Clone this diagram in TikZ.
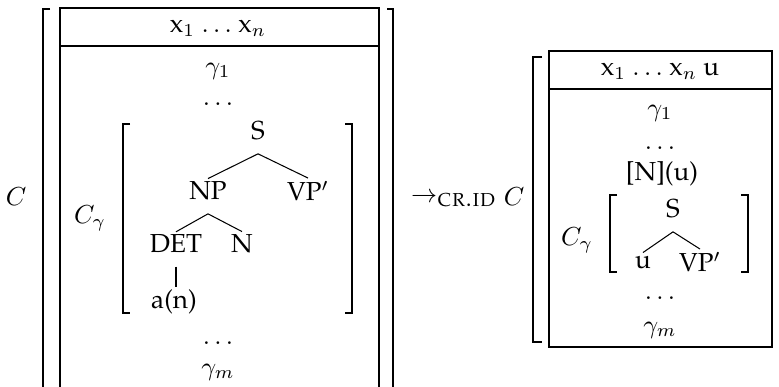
\documentclass[tikz,border=0pt]{standalone}
\usepackage[T1]{fontenc}
\usepackage{palatino}
\usepackage{amsmath, graphicx, tikz}
\usetikzlibrary{positioning}

\begin{document}
\begin{tikzpicture}[x=0.384pt,y=-0.384pt,
    lbl/.style={inner sep=1pt},
    brk/.style={line width=0.75pt},
    frame/.style={line width=0.5pt}]
    \useasboundingbox (0,0) rectangle (779,387);

    % left context
    \node[lbl] (cout) at (16,197) {$C$};
    \draw[brk] (50,9) -- (43,9) -- (43,400);
    \draw[brk] (387,9) -- (393,9) -- (393,400);
    \draw[frame] (60,400) -- (60,8) -- (379,8) -- (379,400);
    \draw[frame] (60,46) -- (379,46);

    \node[lbl] (varsl) at (218,28) {x$_1$ $\ldots$ x$_n$};
    \node[lbl] (g1l) at (218,71) {$\gamma_1$};
    \node[lbl] (dotsla) at (218,104) {$\ldots$};
    \node[lbl] (cgl) at (90,218) {$C_\gamma$};
    \draw[brk] (130,124) -- (123,124) -- (123,313) -- (130,313);
    \draw[brk] (345,124) -- (352,124) -- (352,313) -- (345,313);

    \node[lbl] (sl) at (258,131) {S};
    \node[lbl] (np) at (208,191) {NP};
    \node[lbl] (vpl) at (308,191) {VP$'$};
    \node[lbl] (det) at (176,244) {DET};
    \node[lbl] (n) at (242,244) {N};
    \node[lbl] (an) at (174,302) {a(n)};

    \foreach \from/\to in {sl/np,sl/vpl,np/det,np/n}
        \draw ([yshift=-4pt]\from.south)--(\to.north);
    \draw ([yshift=-4pt]det.south)--(det.south |- an.north);

    \node[lbl] (dotslb) at (218,343) {$\ldots$};
    \node[lbl] (gml) at (218,372) {$\gamma_m$};

    % rewrite step
    \node[lbl] (step1) at (454,200) {$\rightarrow_{\text{\small\scshape cr.id}}$};
    \node[lbl] (cres) at (514,197) {$C$};

    % right context
    \draw[brk] (542,57) -- (533,57) -- (533,342) -- (542,342);
    \draw[frame] (549,51) rectangle (772,347);
    \draw[frame] (549,89) -- (772,89);

    \node[lbl] (varsr) at (660,71) {x$_1$ $\ldots$ x$_n$ u};
    \node[lbl] (g1r) at (660,113) {$\gamma_1$};
    \node[lbl] (dotsra) at (660,148) {$\ldots$};
    \node[lbl] (nu) at (662,174) {[N](u)};
    \node[lbl] (cgr) at (577,240) {$C_\gamma$};
    \draw[brk] (617,195) -- (610,195) -- (610,272) -- (617,272);
    \draw[brk] (741,195) -- (748,195) -- (748,272) -- (741,272);

    \node[lbl] (sr) at (673,209) {S};
    \node[lbl] (u) at (643,262) {u};
    \node[lbl] (vpr) at (700,262) {VP$'$};

    \foreach \from/\to in {sr/u,sr/vpr}
        \draw ([yshift=-4pt]\from.south)--(\to.north);

    \node[lbl] (dotsrb) at (660,298) {$\ldots$};
    \node[lbl] (gmr) at (660,330) {$\gamma_m$};
  \end{tikzpicture}
\end{document}
